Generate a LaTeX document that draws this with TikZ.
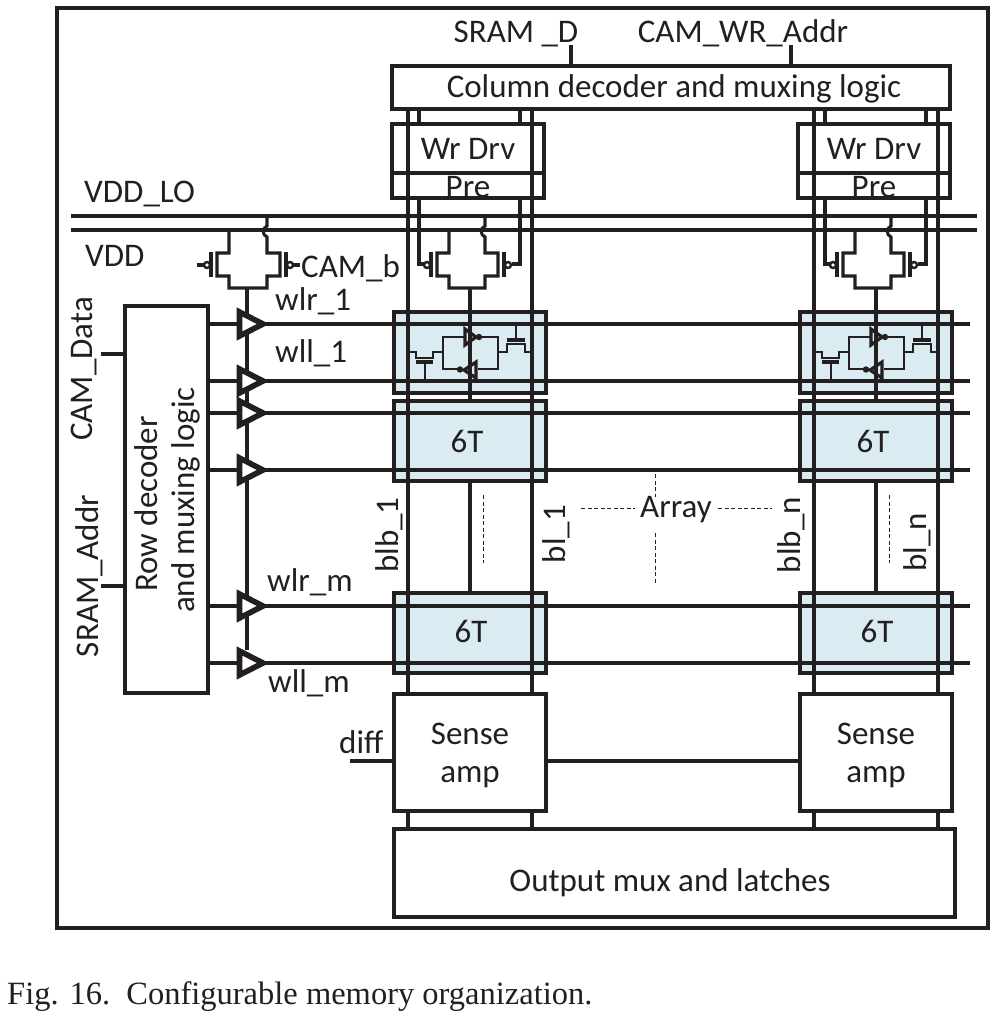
\documentclass[tikz,border=0pt]{standalone}
\usepackage{fontspec}
\setmainfont{Carlito}
\newfontfamily\capfont{Liberation Serif}
\definecolor{cellblue}{HTML}{DAECF2}
\definecolor{ink}{HTML}{231F20}
\tikzset{
  wire/.style={line width=3.05pt,draw=ink},
  wordline/.style={line width=3.05pt,draw=ink},
  gatebar/.style={line width=3.6pt,draw=ink},
  boxnode/.style={draw=ink,line width=3.05pt,fill=white,rectangle,inner sep=0pt,outer sep=0pt,text=ink},
  cellbox/.style={boxnode,fill=cellblue},
  label/.style={text=ink,font=\fontsize{33}{33}\selectfont,inner sep=0pt},
  rotlabel/.style={label,rotate=90},
  dashwire/.style={line width=0.9pt,draw=ink,dash pattern=on 4pt off 2.5pt},
  drvtri/.style={line width=5.6pt,draw=ink,line join=miter,miter limit=10,fill=white},
  latchtri/.style={line width=3.2pt,draw=ink,line join=miter},
}
% box by pixel corners
\newcommand{\bx}[6]{\node[#1,anchor=north west,minimum width=#4-#2,minimum height=#5-#3] (#6) at (#2,#3) {};}
\newcommand{\drvr}[2]{%
  \coordinate (drv#1) at (239,#2);
  \coordinate (drvtip#1) at (264,#2);
  \coordinate (wlend#1) at (970,#2);
  \draw[wordline] (rd.east |- drv#1) -- (drv#1);
  \draw[drvtri] (239.5,#2-12) -- (263,#2) -- (239.5,#2+12) -- cycle;
  \draw[wordline] (drvtip#1) -- (wlend#1);
}
\newcommand{\pmospair}[3]{%
\begin{scope}[shift={(#1,0)}]
  \draw[wire,line join=miter] (#2,230) -- (#2,253) -- (#2-12,253) -- (#2-12,276) -- (#2,276) -- (#2,288)
    -- (#3,288) -- (#3,276) -- (#3+13,276) -- (#3+13,253) -- (#3,253) -- (#3,237)
    .. controls (#3-5,235) and (#3-5,228) .. (#3,226) -- (#3,216);
  \draw[gatebar] (#2-18,252) -- (#2-18,277);
  \draw[gatebar] (#3+19,252) -- (#3+19,277);
  \draw[draw=ink,fill=white,line width=2.4pt] (#2-22,265) circle (3pt);
  \draw[draw=ink,fill=white,line width=2.4pt] (#3+23,265) circle (3pt);
\end{scope}}
\begin{document}
\begin{tikzpicture}[x=1pt,y=-1pt,line cap=butt]
\useasboundingbox (0,0) rectangle (1000,1018);
\fill[white] (0,0) rectangle (1000,1018);
\draw[wordline] (57,8) rectangle (988,928);
\node[label,anchor=base] (sramd) at (516,42) {SRAM \_D};
\node[label,anchor=base] (camwr) at (743,42) {CAM\_WR\_Addr};
\foreach \d/\n in {0/a,406/b}{
  \begin{scope}[shift={(\d,0)}]
  \bx{boxnode}{392}{124}{544}{173}{wr\n}
  \bx{boxnode}{392}{173}{544}{198}{pre\n}
  \bx{cellbox}{394}{312}{546}{393}{cella\n}
  \bx{cellbox}{394}{401}{546}{481}{cellb\n}
  \bx{cellbox}{394}{593}{546}{673}{cellc\n}
  \bx{boxnode}{394}{694}{546}{811}{sa\n}
  \node[label] (wrt\n) at (468,149) {Wr Drv};
  \node[label] (pret\n) at (468,187) {Pre};
  \node[label] (sixa\n) at (467,441) {6T};
  \node[label] (sixb\n) at (471,631) {6T};
  \node[label] (sat\n) at (470,734) {Sense};
  \node[label] (sau\n) at (470,777) {amp};
  \end{scope}
}
\bx{boxnode}{392}{66}{950}{109}{cd}
\node[label] (cdt) at (674,89) {Column decoder and muxing logic};
\bx{boxnode}{394}{829}{955}{917}{om}
\node[label] (omt) at (670,883) {Output mux and latches};
\bx{boxnode}{125}{306}{208}{693}{rd}
\node[rotlabel] (rdt) at (146,504) {Row decoder};
\node[rotlabel] (rdu) at (186,500) {and muxing logic};
\foreach \d/\n in {0/a,406/b}{
  \begin{scope}[shift={(\d,0)}]
  \coordinate (blb\n) at (408,0);
  \coordinate (bl\n) at (532,0);
  \coordinate (ib\n) at (419,0);
  \coordinate (il\n) at (520,0);
  \coordinate (mid\n) at (470,0);
  \end{scope}
  \draw[wire] (cd.south -| blb\n) -- (sa\n.north -| blb\n);
  \draw[wire] (cd.south -| bl\n) -- (sa\n.north -| bl\n);
  \draw[wire] (cd.south -| ib\n) -- (wr\n.north -| ib\n);
  \draw[wire] (cd.south -| il\n) -- (wr\n.north -| il\n);
  \draw[wire] (sa\n.south -| blb\n) -- (om.north -| blb\n);
  \draw[wire] (sa\n.south -| bl\n) -- (om.north -| bl\n);
}
% rails
\coordinate (lo1) at (71,216);
\coordinate (lo2) at (977,216);
\coordinate (vd1) at (71,230);
\coordinate (vd2) at (977,230);
\draw[wordline] (lo1) -- (lo2);
\draw[wordline] (vd1) -- (vd2);
\foreach \d/\n in {0/a,406/b}{
 \begin{scope}[shift={(\d,0)}]
  \draw[wire] (419,198) -- (419,264) -- (427,264);
  \draw[wire] (520,198) -- (520,264) -- (512,264);
  \draw[wire] (470,288) -- (470,401);
  \draw[wire] (cellb\n.south -| mid\n) -- (cellc\n.north -| mid\n);
 \end{scope}
}
\pmospair{0}{449}{485}
\pmospair{406}{449}{485}
\pmospair{-220}{449}{487}
\coordinate (gl) at (197,265);
\coordinate (gr1) at (292,265);
\coordinate (gr2) at (300,265);
\draw[wire] (gl) -- (205,265);
\draw[wire] (gr1) -- (gr2);
\draw[wire] (247,289) -- (247,650);
\foreach \i/\y in {1/324,2/381,3/413,4/470,5/606,6/663}{\drvr{\i}{\y}}
\coordinate (camd) at (101,354);
\coordinate (srama) at (101,586);
\draw[wire] (camd) -- (rd.west |- camd);
\draw[wire] (srama) -- (rd.west |- srama);
\coordinate (dif) at (350,761);
\draw[wire] (dif) -- (saa.west |- dif);
\draw[wire] (saa.east |- dif) -- (sab.west |- dif);
\coordinate (sdtop) at (571,45);
\coordinate (cwtop) at (791,45);
\draw[wire] (sdtop) -- (cd.north -| sdtop);
\draw[wire] (cwtop) -- (cd.north -| cwtop);
% latch
\foreach \d in {0,406}{
 \begin{scope}[shift={(\d,0)},line width=2.9pt]
  \draw[draw=ink] (464,337) -- (443,337) -- (443,369) -- (458,369);
  \draw[draw=ink] (478,337) -- (498,337) -- (498,369) -- (478,369);
  \draw[latchtri] (465,329) -- (476,337) -- (465,345) -- cycle;
  \draw[latchtri] (476,362) -- (464,370) -- (476,378) -- cycle;
  \fill[ink] (479,337) circle (3.2pt);
  \fill[ink] (460,369.5) circle (3.2pt);
  \draw[draw=ink] (408,352) -- (416,352) -- (416,358) -- (433,358) -- (433,352) -- (443,352);
  \draw[gatebar] (416,362) -- (433,362);
  \draw[draw=ink] (425,362) -- (425,380);
  \draw[draw=ink] (498,352) -- (507,352) -- (507,344) -- (525,344) -- (525,352) -- (532,352);
  \draw[gatebar] (507,340) -- (525,340);
  \draw[draw=ink] (516,340) -- (516,324);
 \end{scope}
}
% dashes
\draw[dashwire] (483,495) -- (483,563);
\draw[dashwire] (889,495) -- (889,563);
\draw[dashwire] (581,508) -- (635,508);
\draw[dashwire] (718,508) -- (772,508);
\draw[dashwire] (655,474) -- (655,497);
\draw[dashwire] (655,533) -- (655,584);
\node[label] (arr) at (676,510) {Array};
% labels
\node[label,anchor=west] (l1) at (84,194) {VDD\_LO};
\node[label,anchor=west] (l2) at (85,256) {VDD};
\node[label,anchor=west] (l3) at (301,268) {CAM\_b};
\node[label,anchor=west] (l4) at (275,301) {wlr\_1};
\node[label,anchor=west] (l5) at (275,353) {wll\_1};
\node[label,anchor=west] (l6) at (267,582) {wlr\_m};
\node[label,anchor=west] (l7) at (268,683) {wll\_m};
\node[label,anchor=west] (l8) at (339,742) {diff};
\node[rotlabel] (l9) at (84,369) {CAM\_Data};
\node[rotlabel] (l10) at (89,576) {SRAM\_Addr};
\node[rotlabel] (l11) at (389,535) {blb\_1};
\node[rotlabel] (l12) at (556,534) {bl\_1};
\node[rotlabel] (l13) at (791,535) {blb\_n};
\node[rotlabel] (l14) at (917,542) {bl\_n};
\node[anchor=base west,inner sep=0pt,text=ink,font=\capfont\fontsize{32.5}{32.5}\selectfont] (cap) at (7,1004) {Fig. 16.\ \ Configurable memory organization.};
\end{tikzpicture}
\end{document}
